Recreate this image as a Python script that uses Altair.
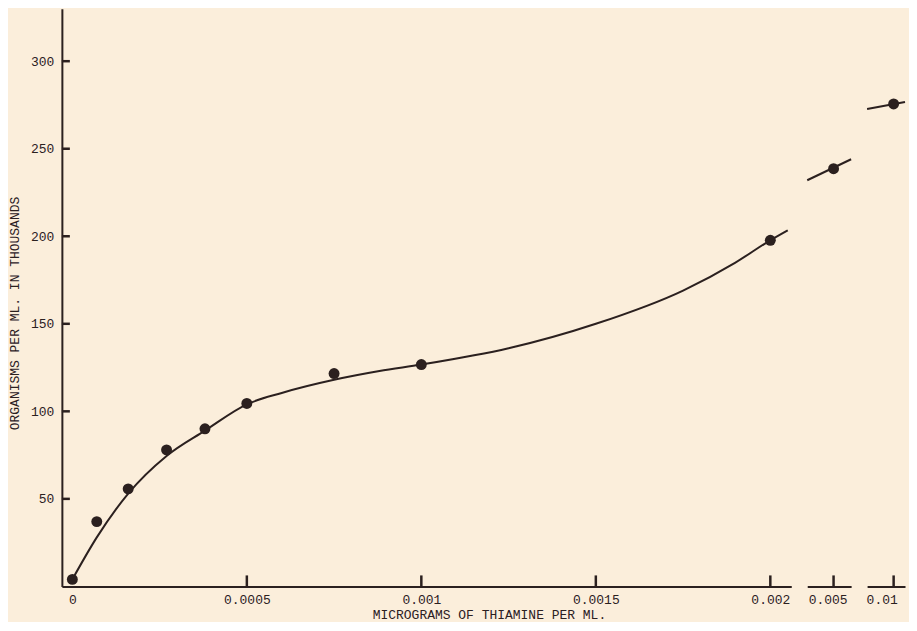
import altair as alt
import pandas as pd

# ---- data ----
dose = [0, 0.00007, 0.00016, 0.00027, 0.00038, 0.0005, 0.00075, 0.001, 0.002, 0.005, 0.01]
organisms = [4, 37, 55.7, 78, 90, 104.5, 121.6, 126.7, 197.7, 238.6, 275.6]

# hand-drawn smooth curve (main section)
curve_x = [0, 0.00007, 0.00016, 0.00027, 0.00038, 0.0005, 0.0006, 0.00075, 0.00088,
           0.001, 0.00125, 0.0015, 0.00175, 0.0019, 0.002, 0.00205]
curve_y = [4, 28, 53, 74.5, 89, 104, 110.5, 118, 123,
           126.7, 136, 150, 169, 185, 197.7, 203.4]
# short curve pieces at the broken part of the axis
seg2_x = [0.00494, 0.00504]
seg2_y = [232, 244]
seg3_x = [0.00993, 0.01003]
seg3_y = [272.7, 276.7]

y_ticks = [50, 100, 150, 200, 250, 300]
x_ticks_main = [0, 0.0005, 0.001, 0.0015, 0.002]
x_ticks_2 = [0.005]
x_ticks_3 = [0.01]

INK = "#2b201f"
BG = "#fbeedb"
FONT = "Liberation Mono"
H = 579

ys = alt.Scale(domain=[0, 330], nice=False, zero=False)


def panel(x_pts, y_pts, cx, cy, ticks, domain, width, first, label_offset=0):
    xs = alt.Scale(domain=domain, nice=False, zero=False)
    if first:
        xaxis = alt.Axis(values=ticks, format="~g", ticks=False, tickSize=0,
                         labelPadding=7, title="MICROGRAMS OF THIAMINE PER ML.",
                         titlePadding=2, titleX=428, titleAlign="center",
                         titleAnchor="start")
        yaxis = alt.Axis(values=y_ticks, ticks=False, tickSize=0, labelPadding=8,
                         title="ORGANISMS PER ML. IN THOUSANDS", titlePadding=9,
                         titleY=305, grid=False)
    else:
        xaxis = alt.Axis(values=ticks, format="~g", ticks=False, tickSize=0,
                         labelPadding=7, title=None, labelOffset=label_offset)
        yaxis = None
    dpts = pd.DataFrame({"dose": x_pts, "org": y_pts})
    dline = pd.DataFrame({"dose": cx, "org": cy})
    dtick = pd.DataFrame({"t": [t for t in ticks if t != 0]})
    line = alt.Chart(dline).mark_line(interpolate="monotone", color=INK,
                                      strokeWidth=2).encode(
        x=alt.X("dose:Q", scale=xs, axis=xaxis),
        y=alt.Y("org:Q", scale=ys, axis=yaxis),
    )
    points = alt.Chart(dpts).mark_circle(size=120, opacity=1, color=INK).encode(
        x=alt.X("dose:Q", scale=xs, axis=xaxis),
        y=alt.Y("org:Q", scale=ys, axis=yaxis),
    )
    # inward-pointing tick marks, as in the original
    xt = alt.Chart(dtick).mark_rule(color=INK, strokeWidth=2.5).encode(
        x=alt.X("t:Q", scale=xs, axis=xaxis),
        y=alt.value(H), y2=alt.value(H - 11),
    )
    layers = [line, points, xt]
    if first:
        dyt = pd.DataFrame({"v": y_ticks})
        yt = alt.Chart(dyt).mark_rule(color=INK, strokeWidth=2.5).encode(
            y=alt.Y("v:Q", scale=ys, axis=yaxis),
            x=alt.value(0), x2=alt.value(8),
        )
        layers.append(yt)
    return alt.layer(*layers).properties(width=width, height=H)


main_x = [d for d in dose if d <= 0.002]
main_y = organisms[:len(main_x)]

p1 = panel(main_x, main_y, curve_x, curve_y, x_ticks_main,
           [-0.00003, 0.00206], 731, True)
p2 = panel([dose[9]], [organisms[9]], seg2_x, seg2_y, x_ticks_2,
           [0.00494, 0.00504], 44, False, -6)
p3 = panel([dose[10]], [organisms[10]], seg3_x, seg3_y, x_ticks_3,
           [0.00993, 0.01003], 38, False, -12)

chart = alt.hconcat(p1, p2, p3, spacing=16, bounds="flush").properties(
    background=BG,
    padding={"left": 0, "top": 0, "right": 0, "bottom": 0},
).configure_view(stroke=None).configure_axis(
    domainColor=INK, domainWidth=2, labelColor=INK, titleColor=INK,
    labelFont=FONT, titleFont=FONT, labelFontSize=13, titleFontSize=13,
    titleFontWeight="normal", grid=False,
)

chart.save("out.html", embed_options={"renderer": "svg", "actions": False})
